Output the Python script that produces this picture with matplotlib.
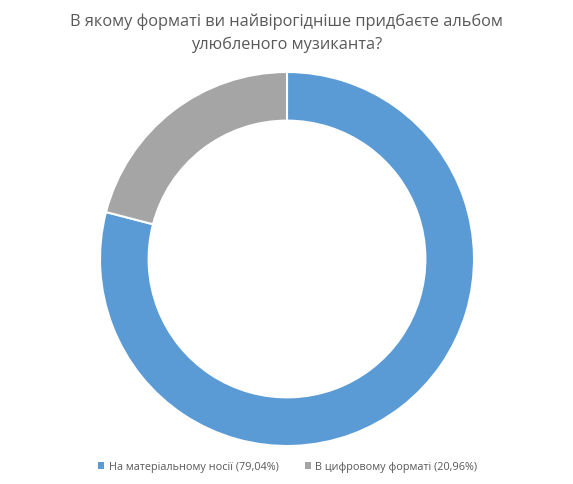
import matplotlib
matplotlib.use("Agg")
import matplotlib.pyplot as plt
from matplotlib.patches import Patch

labels = ["На матеріальному носії (79,04%)", "В цифровому форматі (20,96%)"]
values = [79.04, 20.96]
colors = ["#5B9BD5", "#A5A5A5"]
title = "В якому форматі ви найвірогідніше придбаєте альбом\nулюбленого музиканта?"

plt.rcParams['font.family'] = ['Open Sans', 'DejaVu Sans']

fig = plt.figure(figsize=(5.73, 4.85), dpi=100)
ax = fig.add_axes([100/573, 38/485, 374/573, 374/485])
ax.pie(values, colors=colors, startangle=90, counterclock=False,
       radius=1.0, wedgeprops=dict(width=0.26, edgecolor="white", linewidth=1.5))
ax.set_xlim(-1, 1)
ax.set_ylim(-1, 1)
ax.set_aspect("equal")
ax.axis("off")

fig.text(0.5, 1 - 33/485, title, ha="center", va="center", fontsize=11.8,
         color="#595959", linespacing=1.55)

handles = [Patch(facecolor=c, edgecolor="none") for c in colors]
fig.legend(handles, labels, loc="center", bbox_to_anchor=(0.502, 1 - 468/485),
           ncol=2, frameon=False, fontsize=7.8, labelcolor="#595959",
           handlelength=0.6, handleheight=0.6, handletextpad=0.4, columnspacing=2.4)

fig.savefig("out.png", dpi=100)
